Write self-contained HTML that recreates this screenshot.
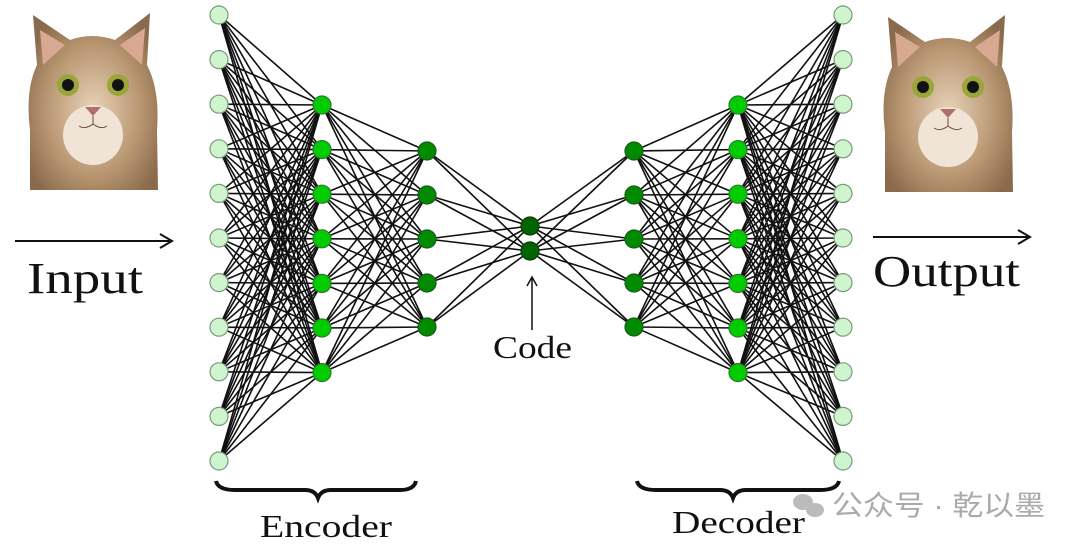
<!DOCTYPE html>
<html><head><meta charset="utf-8">
<style>
html,body{margin:0;padding:0;background:#fff;width:1080px;height:548px;overflow:hidden}
svg{display:block}
text{font-family:"Liberation Serif",serif;fill:#111}
</style></head>
<body>
<svg id="s" width="1080" height="548" viewBox="0 0 1080 548" xmlns="http://www.w3.org/2000/svg">
<defs>
<radialGradient id="fur" cx="50%" cy="55%" r="60%">
<stop offset="0" stop-color="#e8d3b8"/><stop offset="0.6" stop-color="#b99772"/><stop offset="1" stop-color="#8a6a4c"/>
</radialGradient>
<g id="cat">
<path d="M5,180 L5,120 Q0,80 12,55 L8,5 L45,30 Q67,22 90,30 L125,3 L122,55 Q135,80 132,120 L133,180 Z" fill="url(#fur)"/>
<path d="M15,20 L40,35 L18,55Z M120,18 L95,35 L117,55Z" fill="#d8a890"/>
<ellipse cx="68" cy="125" rx="30" ry="30" fill="#efe4d6"/>
<circle cx="43" cy="75" r="11" fill="#9aa53a"/><circle cx="93" cy="75" r="11" fill="#9aa53a"/>
<circle cx="43" cy="75" r="6" fill="#111"/><circle cx="93" cy="75" r="6" fill="#111"/>
<path d="M60,97 L76,97 L68,106Z" fill="#b0706a"/>
<path d="M68,106 L68,114 M68,114 Q60,120 54,116 M68,114 Q76,120 82,116" stroke="#6a4a3a" fill="none"/>
</g>
</defs>
<use href="#cat" x="25" y="10"/>
<use href="#cat" x="880" y="12"/>
<g id="lines" stroke="#111" stroke-width="1.6"></g>
<g id="nodes"></g>
<line x1="15" y1="241" x2="170" y2="241" stroke="#111" stroke-width="2"/>
<path d="M160,234 L172,241 L160,248" fill="none" stroke="#111" stroke-width="2"/>
<line x1="873" y1="237" x2="1028" y2="237" stroke="#111" stroke-width="2"/>
<path d="M1018,230 L1030,237 L1018,244" fill="none" stroke="#111" stroke-width="2"/>
<text x="27" y="293" font-size="44" textLength="116" lengthAdjust="spacingAndGlyphs">Input</text>
<text x="873" y="286" font-size="44" textLength="147" lengthAdjust="spacingAndGlyphs">Output</text>
<line x1="532" y1="277" x2="532" y2="330" stroke="#111" stroke-width="1.5"/>
<path d="M527,286 L532,277 L537,286" fill="none" stroke="#111" stroke-width="1.5"/>
<text x="493" y="358" font-size="32" textLength="79" lengthAdjust="spacingAndGlyphs">Code</text>
<path d="M216,481 Q218,490 235,490 L305,490 Q315,490 318,498 Q321,490 331,490 L400,490 Q414,490 416,481" fill="none" stroke="#111" stroke-width="4"/>
<path d="M637,481 Q639,490 656,490 L720,490 Q730,490 733,498 Q736,490 746,490 L820,490 Q837,490 839,481" fill="none" stroke="#111" stroke-width="4"/>
<text x="260" y="537" font-size="32" textLength="132" lengthAdjust="spacingAndGlyphs">Encoder</text>
<text x="672" y="533" font-size="32" textLength="133" lengthAdjust="spacingAndGlyphs">Decoder</text>
<g fill="#bbb"><ellipse cx="803" cy="502" rx="10" ry="8"/><ellipse cx="815" cy="510" rx="9" ry="7"/></g>
<text x="832" y="515" font-size="28" textLength="213" lengthAdjust="spacingAndGlyphs" style="font-family:'Liberation Sans','Noto Sans CJK SC',sans-serif;fill:#aaa">公众号 · 乾以墨</text>
</svg>
<script>
var layers=[
 {x:219,n:11,y0:15,dy:44.6,c:"#cff5cf",s:"#7a9a7a"},
 {x:322,n:7,y0:105,dy:44.6,c:"#00cc00",s:"#2a7a2a"},
 {x:427,n:5,y0:151,dy:44,c:"#008a00",s:"#1a5a1a"},
 {x:530,n:2,y0:226,dy:25,c:"#006400",s:"#0a3a0a"},
 {x:634,n:5,y0:151,dy:44,c:"#008a00",s:"#1a5a1a"},
 {x:738,n:7,y0:105,dy:44.6,c:"#00cc00",s:"#2a7a2a"},
 {x:843,n:11,y0:15,dy:44.6,c:"#cff5cf",s:"#7a9a7a"}];
var NS="http://www.w3.org/2000/svg",L=document.getElementById("lines"),N=document.getElementById("nodes");
function p(l,i){return [l.x,l.y0+i*l.dy];}
for(var k=0;k<layers.length-1;k++){var a=layers[k],b=layers[k+1];
 for(var i=0;i<a.n;i++)for(var j=0;j<b.n;j++){var A=p(a,i),B=p(b,j);
  var e=document.createElementNS(NS,"line");e.setAttribute("x1",A[0]);e.setAttribute("y1",A[1]);e.setAttribute("x2",B[0]);e.setAttribute("y2",B[1]);L.appendChild(e);}}
layers.forEach(function(l){for(var i=0;i<l.n;i++){var A=p(l,i);var c=document.createElementNS(NS,"circle");
 c.setAttribute("cx",A[0]);c.setAttribute("cy",A[1]);c.setAttribute("r",9);c.setAttribute("fill",l.c);c.setAttribute("stroke",l.s);c.setAttribute("stroke-width",1.2);N.appendChild(c);}});
</script>
</body></html>
